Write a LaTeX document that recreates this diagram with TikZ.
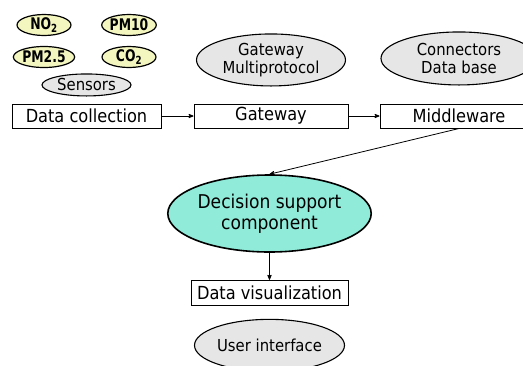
\documentclass[tikz,border=0pt]{standalone}
\usepackage{fontspec}
\setmainfont{DejaVu Sans Condensed}
\newfontfamily\gasfont[FakeStretch=0.86]{DejaVu Sans Condensed}
\usetikzlibrary{arrows,shapes.geometric,positioning}
\definecolor{sensorfill}{HTML}{F4F6C0}
\definecolor{layerfill}{HTML}{E6E6E6}
\definecolor{decisionfill}{HTML}{90EBD9}
\newcommand*\pxfont[1]{\fontsize{#1}{#1}\selectfont}

\begin{document}
\begin{tikzpicture}[x=1pt,y=-1pt,>=stealth',line width=0.8pt,
		gas/.style={shape=ellipse,draw,line width=1.2pt,fill=sensorfill,inner sep=0pt,
			minimum width=54pt,minimum height=21pt,font=\gasfont\pxfont{16}\bfseries},
		tag/.style={shape=ellipse,draw,line width=1.1pt,fill=layerfill,inner sep=0pt,
			align=center,font=\pxfont{16.5}\linespread{1.1}\selectfont},
		stage/.style={shape=rectangle,draw,line width=1pt,inner sep=0pt,
			minimum height=24pt,font=\pxfont{18}}]
	\useasboundingbox (0,0) rectangle (523,365);

	% sensors
	\node (no) [gas] at (44,25) {NO\textsubscript{2}};
	\node (pmten) [gas] at (129,25) {PM10};
	\node (pmsmall) [gas] at (44,57) {PM2.5};
	\node (co) [gas] at (129,57) {CO\textsubscript{2}};

	% main chain
	\node (collect) [stage,minimum width=149pt] at (86.5,116) {Data collection};
	\node (gateway) [stage,minimum width=154pt,right=32pt of collect] {Gateway};
	\node (middle) [stage,minimum width=158pt,right=31pt of gateway] {Middleware};

	\node (sensors) [tag,minimum width=89pt,minimum height=22pt,above=7pt of collect] {Sensors};
	\node (multi) [tag,minimum width=149pt,minimum height=52pt,above=17pt of gateway] {Gateway\\Multiprotocol};
	\node (store) [tag,minimum width=156pt,minimum height=53pt,above=18pt of middle] {Connectors\\Data base};

	\node (decide) [shape=ellipse,draw,line width=1.6pt,fill=decisionfill,inner sep=0pt,
		minimum width=157pt,minimum height=77pt,align=center,
		font=\pxfont{19}\linespread{1.1}\selectfont] at (269.5,213.5) {Decision support\\component};
	\node (visual) [stage,minimum width=157pt,minimum height=25pt,below=27pt of decide] {Data visualization};
	\node (user) [tag,minimum width=150pt,minimum height=52pt,below=13pt of visual] {User interface};

	\path[->](collect) edge (gateway);
	\path[->](gateway) edge (middle);
	\path[->](middle.south) edge (decide.north);
	\path[->](decide) edge (visual);
\end{tikzpicture}
\end{document}
